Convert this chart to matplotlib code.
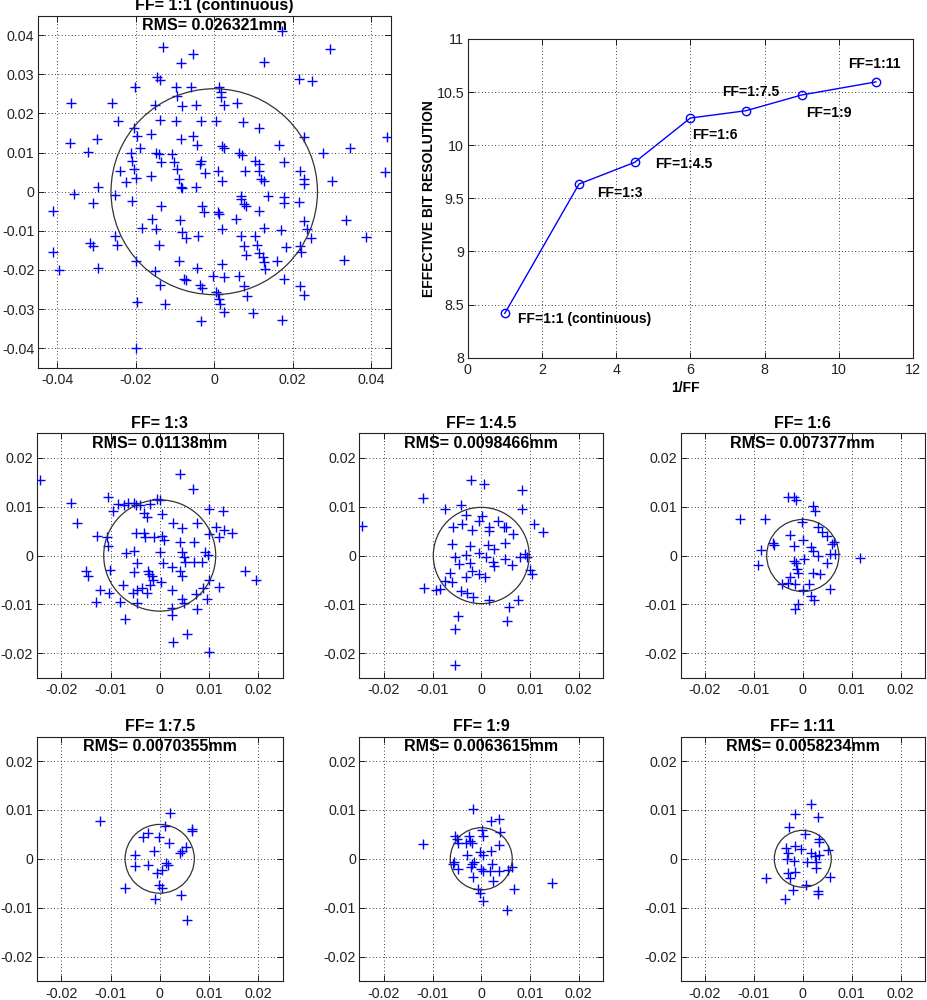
import matplotlib
matplotlib.use('Agg')
import matplotlib.pyplot as plt
from matplotlib.patches import Circle
from matplotlib.ticker import FuncFormatter

plt.rcParams['font.family'] = ['Liberation Sans', 'DejaVu Sans']

# --- effective bit resolution vs 1/FF ---
inv_ff = [1, 3, 4.5, 6, 7.5, 9, 11]
ebr = [8.417, 9.635, 9.839, 10.256, 10.325, 10.473, 10.596]
ebr_labels = ['FF=1:1 (continuous)', 'FF=1:3', 'FF=1:4.5', 'FF=1:6',
              'FF=1:7.5', 'FF=1:9', 'FF=1:11']

# --- scatter panels (mm) ---
titles = ['FF= 1:1 (continuous)', 'FF= 1:3', 'FF= 1:4.5', 'FF= 1:6',
          'FF= 1:7.5', 'FF= 1:9', 'FF= 1:11']
rms = [0.026321, 0.01138, 0.0098466, 0.007377, 0.0070355, 0.0063615, 0.0058234]
rms_text = ['0.026321', '0.01138', '0.0098466', '0.007377', '0.0070355',
            '0.0063615', '0.0058234']

ff1_x = [0.0173, -0.0130, -0.0054, -0.0084, 0.0128, 0.0294, 0.0216, 0.0250, -0.0145, -0.0138,
         -0.0203, -0.0098, -0.0058, 0.0013, 0.0017, 0.0017, -0.0094, -0.0081, -0.0152, -0.0047,
         0.0026, 0.0058, -0.0260, -0.0365, -0.0245, -0.0138, -0.0098, -0.0034, 0.0004, 0.0073,
         0.0113, -0.0205, -0.0196, -0.0162, -0.0085, -0.0055, -0.0043, 0.0021, 0.0026, -0.0298,
         -0.0367, -0.0322, -0.0188, -0.0211, -0.0209, -0.0149, -0.0136, -0.0107, -0.0102, -0.0034,
         -0.0036, -0.0024, 0.0010, 0.0021, 0.0064, 0.0070, 0.0079, 0.0104, 0.0115, 0.0115,
         0.0119, 0.0128, 0.0164, 0.0179, 0.0230, 0.0277, 0.0345, 0.0441, 0.0435, 0.0299,
         0.0218, 0.0229, 0.0230, -0.0239, -0.0226, -0.0205, -0.0200, -0.0162, -0.0094, -0.0090,
         -0.0085, -0.0081, -0.0047, -0.0296, -0.0357, -0.0252, -0.0309, -0.0411, -0.0209, -0.0136,
         -0.0032, -0.0027, 0.0010, 0.0013, 0.0055, 0.0067, 0.0068, 0.0077, 0.0081, 0.0115,
         0.0136, 0.0177, 0.0179, 0.0216, 0.0230, 0.0236, 0.0247, 0.0337, 0.0388, -0.0158,
         -0.0149, -0.0185, -0.0087, -0.0081, -0.0072, -0.0041, 0.0021, 0.0067, 0.0075, 0.0081,
         0.0104, 0.0109, 0.0115, 0.0124, 0.0128, 0.0130, 0.0128, 0.0171, 0.0183, 0.0160,
         0.0177, 0.0218, 0.0222, 0.0219, 0.0229, 0.0331, 0.0172, 0.0098, -0.0316, -0.0309,
         -0.0252, -0.0247, -0.0411, -0.0397, -0.0296, -0.0200, -0.0141, -0.0090, -0.0043, -0.0151,
         -0.0138, -0.0077, -0.0072, -0.0036, -0.0030, -0.0002, 0.0024, 0.0021, 0.0064, 0.0075,
         0.0084, 0.0004, 0.0009, 0.0013, 0.0015, 0.0026, -0.0125, -0.0196, -0.0034, -0.0200,
         -0.0142]
ff1_y = [0.0412, 0.0369, 0.0352, 0.0329, 0.0331, 0.0366, 0.0288, 0.0284, 0.0292, 0.0285,
         0.0268, 0.0267, 0.0267, 0.0267, 0.0254, 0.0241, 0.0245, 0.0220, 0.0222, 0.0222,
         0.0222, 0.0227, 0.0228, 0.0227, 0.0181, 0.0184, 0.0181, 0.0181, 0.0181, 0.0177,
         0.0164, 0.0164, 0.0143, 0.0147, 0.0135, 0.0143, 0.0119, 0.0118, 0.0113, 0.0135,
         0.0124, 0.0102, 0.0113, 0.0098, 0.0079, 0.0098, 0.0075, 0.0096, 0.0075, 0.0078,
         0.0071, 0.0049, 0.0054, 0.0028, 0.0099, 0.0095, 0.0054, 0.0079, 0.0071, 0.0054,
         0.0032, 0.0028, 0.0120, 0.0077, 0.0141, 0.0099, 0.0113, 0.0139, 0.0051, 0.0028,
         0.0054, 0.0032, 0.0020, 0.0054, 0.0026, 0.0058, 0.0034, 0.0041, 0.0058, 0.0032,
         0.0013, 0.0009, 0.0011, 0.0013, -0.0006, -0.0009, -0.0029, -0.0050, -0.0023, -0.0036,
         -0.0036, -0.0051, -0.0053, -0.0057, -0.0070, -0.0010, -0.0019, -0.0032, -0.0036, -0.0050,
         -0.0012, -0.0014, -0.0029, -0.0027, -0.0074, -0.0095, -0.0119, -0.0072, -0.0117, -0.0070,
         -0.0095, -0.0094, -0.0072, -0.0102, -0.0119, -0.0112, -0.0095, -0.0114, -0.0138, -0.0162,
         -0.0112, -0.0136, -0.0157, -0.0168, -0.0181, -0.0198, -0.0094, -0.0097, -0.0142, -0.0176,
         -0.0223, -0.0138, -0.0155, -0.0240, -0.0264, -0.0174, -0.0327, -0.0310, -0.0131, -0.0138,
         -0.0112, -0.0136, -0.0155, -0.0199, -0.0196, -0.0176, -0.0136, -0.0176, -0.0196, -0.0202,
         -0.0239, -0.0223, -0.0227, -0.0239, -0.0245, -0.0216, -0.0219, -0.0185, -0.0215, -0.0242,
         -0.0266, -0.0256, -0.0262, -0.0274, -0.0287, -0.0308, -0.0287, -0.0283, -0.0330, -0.0400,
         0.0097]

ff3_x = [-0.0244, 0.0042, 0.0067, -0.0180, -0.0168, -0.0106, -0.0094, -0.0085, -0.0073, -0.0065,
         -0.0053, -0.0049, -0.0041, -0.0031, -0.0026, -0.0020, -0.0005, 0.0000, 0.0005, 0.0100,
         0.0129, 0.0076, 0.0027, 0.0045, 0.0115, 0.0130, 0.0147, 0.0120, 0.0100, -0.0127,
         -0.0107, -0.0106, -0.0049, -0.0031, -0.0029, -0.0011, 0.0005, 0.0008, 0.0041, 0.0069,
         -0.0068, -0.0053, -0.0046, 0.0000, 0.0007, 0.0045, 0.0050, 0.0051, 0.0069, 0.0086,
         0.0093, 0.0098, -0.0149, -0.0146, -0.0102, -0.0052, -0.0024, -0.0021, -0.0016, -0.0014,
         0.0003, 0.0025, 0.0042, 0.0045, 0.0100, 0.0120, 0.0174, 0.0195, -0.0121, -0.0104,
         -0.0075, -0.0054, -0.0046, -0.0036, -0.0026, -0.0020, 0.0025, 0.0073, 0.0088, -0.0129,
         -0.0080, -0.0046, -0.0070, 0.0025, 0.0025, 0.0045, 0.0050, 0.0076, 0.0096, 0.0026,
         0.0056, 0.0100]
ff3_y = [0.0155, 0.0166, 0.0137, 0.0107, 0.0067, 0.0120, 0.0092, 0.0105, 0.0103, 0.0107,
         0.0107, 0.0104, 0.0103, 0.0086, 0.0078, 0.0105, 0.0116, 0.0114, 0.0084, 0.0096,
         0.0092, 0.0067, 0.0067, 0.0056, 0.0058, 0.0053, 0.0046, 0.0038, 0.0044, 0.0039,
         0.0038, 0.0019, 0.0046, 0.0046, 0.0038, 0.0038, 0.0039, 0.0031, 0.0028, 0.0028,
         0.0005, 0.0010, -0.0016, 0.0007, -0.0015, 0.0007, -0.0003, -0.0013, -0.0013, -0.0013,
         0.0007, 0.0001, -0.0032, -0.0042, -0.0029, -0.0033, -0.0031, -0.0037, -0.0042, -0.0050,
         -0.0054, -0.0023, -0.0031, -0.0041, -0.0050, -0.0064, -0.0032, -0.0050, -0.0071, -0.0076,
         -0.0061, -0.0076, -0.0071, -0.0067, -0.0076, -0.0061, -0.0071, -0.0079, -0.0067, -0.0095,
         -0.0095, -0.0098, -0.0129, -0.0108, -0.0122, -0.0090, -0.0098, -0.0110, -0.0090, -0.0176,
         -0.0160, -0.0198]

ff45_x = [-0.0245, -0.0119, -0.0021, 0.0005, 0.0084, 0.0084, -0.0074, -0.0041, -0.0032, -0.0040,
          -0.0058, -0.0019, -0.0005, 0.0001, 0.0034, 0.0015, 0.0015, 0.0046, 0.0051, 0.0065,
          0.0108, 0.0127, -0.0060, -0.0023, 0.0013, 0.0027, 0.0048, -0.0005, -0.0053, -0.0045,
          -0.0032, -0.0023, 0.0010, 0.0024, 0.0027, 0.0048, 0.0063, 0.0080, 0.0090, 0.0094,
          0.0101, 0.0104, -0.0019, -0.0005, 0.0008, -0.0031, -0.0065, -0.0060, -0.0074, -0.0084,
          -0.0092, -0.0117, -0.0041, -0.0029, -0.0016, 0.0015, 0.0075, 0.0056, 0.0053, -0.0048,
          -0.0053, -0.0053]
ff45_y = [0.0060, 0.0117, 0.0155, 0.0147, 0.0133, 0.0095, 0.0095, 0.0104, 0.0083, 0.0065,
          0.0058, 0.0052, 0.0071, 0.0080, 0.0071, 0.0059, 0.0051, 0.0059, 0.0058, 0.0044,
          0.0065, 0.0049, 0.0023, 0.0020, 0.0021, 0.0014, 0.0026, 0.0006, -0.0003, -0.0018,
          0.0001, -0.0016, -0.0003, -0.0013, -0.0021, -0.0008, -0.0020, -0.0004, 0.0003, -0.0003,
          -0.0030, -0.0037, -0.0032, -0.0038, -0.0044, -0.0044, -0.0036, -0.0054, -0.0052, -0.0068,
          -0.0070, -0.0066, -0.0073, -0.0077, -0.0085, -0.0091, -0.0092, -0.0106, -0.0135, -0.0123,
          -0.0150, -0.0223]

ff6_x = [-0.0129, -0.0077, -0.0031, -0.0017, -0.0014, 0.0020, 0.0024, -0.0002, 0.0031, 0.0039,
         0.0049, -0.0026, 0.0001, 0.0060, 0.0064, -0.0060, -0.0058, -0.0085, -0.0017, 0.0017,
         0.0020, 0.0032, 0.0056, 0.0066, 0.0049, 0.0117, -0.0092, -0.0017, -0.0014, -0.0012,
         -0.0010, 0.0003, 0.0020, 0.0035, -0.0027, -0.0043, -0.0031, -0.0015, 0.0012, 0.0001,
         0.0056, 0.0017, 0.0022, -0.0009, -0.0016]
ff6_y = [0.0075, 0.0075, 0.0120, 0.0120, 0.0113, 0.0102, 0.0091, 0.0069, 0.0059, 0.0049,
         0.0040, 0.0042, 0.0032, 0.0023, 0.0028, 0.0026, 0.0021, 0.0011, 0.0019, 0.0018,
         0.0010, -0.0001, 0.0003, 0.0003, -0.0016, -0.0006, -0.0020, -0.0011, -0.0016, -0.0027,
         -0.0036, -0.0008, -0.0036, -0.0038, -0.0044, -0.0059, -0.0056, -0.0058, -0.0058, -0.0071,
         -0.0068, -0.0082, -0.0092, -0.0099, -0.0109]

ff75_x = [-0.0121, 0.0021, 0.0011, 0.0065, 0.0066, -0.0035, -0.0023, -0.0001, 0.0019, 0.0053,
          0.0041, 0.0045, -0.0011, -0.0050, -0.0050, -0.0024, 0.0013, 0.0016, 0.0004, -0.0006,
          -0.0001, 0.0004, -0.0070, -0.0009, 0.0043, 0.0055]
ff75_y = [0.0077, 0.0094, 0.0068, 0.0060, 0.0057, 0.0045, 0.0052, 0.0045, 0.0033, 0.0025,
          0.0011, 0.0016, 0.0016, 0.0007, -0.0014, -0.0013, -0.0008, -0.0013, -0.0022, -0.0029,
          -0.0053, -0.0059, -0.0059, -0.0083, -0.0075, -0.0126]

ff9_x = [-0.0120, -0.0016, 0.0019, 0.0036, 0.0038, 0.0036, 0.0001, 0.0004, -0.0053, -0.0049,
         -0.0047, -0.0025, -0.0024, -0.0020, -0.0032, 0.0021, -0.0003, 0.0003, -0.0030, -0.0056,
         -0.0059, -0.0047, -0.0020, -0.0015, -0.0022, -0.0001, 0.0004, 0.0023, 0.0017, 0.0036,
         0.0055, 0.0064, -0.0016, 0.0025, -0.0006, -0.0003, 0.0004, 0.0067, 0.0053, 0.0145]
ff9_y = [0.0030, 0.0101, 0.0078, 0.0082, 0.0054, 0.0028, 0.0059, 0.0047, 0.0047, 0.0040,
         0.0032, 0.0047, 0.0037, 0.0033, 0.0032, 0.0016, 0.0013, 0.0007, 0.0007, -0.0007,
         -0.0011, -0.0021, -0.0011, -0.0007, -0.0016, -0.0021, -0.0024, -0.0010, -0.0024, -0.0024,
         -0.0022, -0.0016, -0.0038, -0.0045, -0.0062, -0.0069, -0.0086, -0.0061, -0.0104, -0.0050]

ff11_x = [0.0017, -0.0016, 0.0032, -0.0028, 0.0005, 0.0033, 0.0034, -0.0034, -0.0016, -0.0003,
          0.0051, -0.0031, 0.0017, 0.0024, 0.0033, -0.0032, -0.0017, 0.0008, 0.0027, 0.0028,
          -0.0016, -0.0031, -0.0027, -0.0075, 0.0056, 0.0007, -0.0019, 0.0031, 0.0032, -0.0036]
ff11_y = [0.0113, 0.0091, 0.0086, 0.0065, 0.0050, 0.0040, 0.0034, 0.0023, 0.0026, 0.0020,
          0.0019, 0.0011, 0.0011, 0.0005, 0.0007, 0.0000, -0.0005, -0.0007, -0.0007, -0.0018,
          -0.0027, -0.0030, -0.0039, -0.0039, -0.0037, -0.0053, -0.0063, -0.0066, -0.0073, -0.0083]

scatter_x = [ff1_x, ff3_x, ff45_x, ff6_x, ff75_x, ff9_x, ff11_x]
scatter_y = [ff1_y, ff3_y, ff45_y, ff6_y, ff75_y, ff9_y, ff11_y]

fmt = FuncFormatter(lambda v, p: f'{round(v, 6):g}')


def style_axes(ax):
    ax.grid(True, linestyle=(0, (1, 3)), color='black', linewidth=0.6)
    ax.set_axisbelow(True)
    ax.tick_params(direction='in', top=True, right=True, length=4, width=0.6,
                   labelsize=10.3, labelcolor='#222222', pad=2.5)
    ax.tick_params(axis='x', pad=4)
    for s in ax.spines.values():
        s.set_linewidth(0.8)
        s.set_color('#222222')
    ax.xaxis.set_major_formatter(fmt)
    ax.yaxis.set_major_formatter(fmt)


def scatter_panel(ax, i, lim, ticks):
    ax.plot(scatter_x[i], scatter_y[i], '+', color='#0000ff', ms=7, mew=1.0, zorder=3)
    ax.add_patch(Circle((0, 0), rms[i], fill=False, ec='#333333', lw=0.9, zorder=4))
    ax.set_xlim(-lim, lim)
    ax.set_ylim(-lim, lim)
    ax.set_xticks(ticks)
    ax.set_yticks(ticks)
    style_axes(ax)
    ax.annotate(titles[i], xy=(0.5, 1), xycoords='axes fraction', xytext=(0, 7.2),
                textcoords='offset points', ha='center', va='center',
                fontsize=11.5, fontweight='bold', zorder=6)
    ax.annotate(f'RMS= {rms_text[i]}mm', xy=(0.5, 1), xycoords='axes fraction',
                xytext=(0, -7.2), textcoords='offset points', ha='center', va='center',
                fontsize=11.5, fontweight='bold', zorder=6)


fig = plt.figure(figsize=(9.27, 10), dpi=100)

ax1 = fig.add_axes([0.0407, 0.6323, 0.3808, 0.352])
scatter_panel(ax1, 0, 0.045, [-0.04, -0.03, -0.02, -0.01, 0, 0.01, 0.02, 0.03, 0.04])
ax1.set_xticks([-0.04, -0.02, 0, 0.02, 0.04])

ax2 = fig.add_axes([0.5045, 0.6423, 0.4804, 0.3187])
ax2.plot(inv_ff, ebr, '-o', color='#0000ff', lw=1.0, ms=6, mfc='none', mew=1.0)
ax2.set_xlim(0, 12)
ax2.set_ylim(8, 11)
ax2.set_xticks([0, 2, 4, 6, 8, 10, 12])
ax2.set_yticks([8, 8.5, 9, 9.5, 10, 10.5, 11])
style_axes(ax2)
ax2.set_xlabel('1/FF', fontsize=10, fontweight='bold', va='center')
ax2.set_ylabel('EFFECTIVE BIT RESOLUTION', fontsize=10, fontweight='bold', va='center')
ax2.xaxis.set_label_coords(0.49, -0.095)
ax2.yaxis.set_label_coords(-0.087, 0.5)
label_offsets = [(9.6, -4.3), (12.7, -6.7), (14.4, -1.2), (1.4, -12.2),
                 (-17.5, 13.2), (3.1, -13.2), (-19.9, 13.2)]
for xv, yv, lab, off in zip(inv_ff, ebr, ebr_labels, label_offsets):
    ax2.annotate(lab, (xv, yv), xytext=off, textcoords='offset points',
                 ha='left', va='center', fontsize=10, fontweight='bold')

lefts = [0.0396, 0.3878, 0.7341]
widths = [0.2654, 0.2627, 0.2638]
bottoms = [0.3223, 0.019]
small_ticks = [-0.02, -0.01, 0, 0.01, 0.02]
for k in range(6):
    r, c = divmod(k, 3)
    ax = fig.add_axes([lefts[c], bottoms[r], widths[c], 0.2444])
    scatter_panel(ax, k + 1, 0.025, small_ticks)

fig.savefig('out.png', dpi=100)
